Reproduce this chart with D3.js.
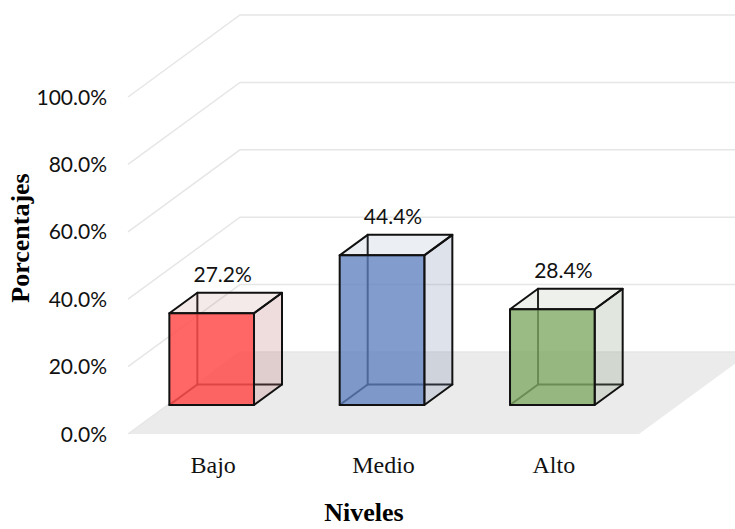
<!DOCTYPE html>
<html>
<head>
<meta charset="utf-8">
<script src="https://cdn.jsdelivr.net/npm/d3@7"></script>
<style>
  html, body { margin: 0; padding: 0; background: #fff; }
  svg { display: block; }
</style>
</head>
<body>
<svg id="chart" width="735" height="529"></svg>
<script>
// ---- data ----
const categories = ["Bajo", "Medio", "Alto"];
const values = [0.272, 0.444, 0.284];
const yTicks = [0, 0.2, 0.4, 0.6, 0.8, 1.0];
const yTickLabels = ["0.0%", "20.0%", "40.0%", "60.0%", "80.0%", "100.0%"];
const valueLabels = ["27.2%", "44.4%", "28.4%"];
const xTitle = "Niveles";
const yTitle = "Porcentajes";

// ---- layout ----
const width = 735, height = 529;
const DX = 112, DY = -82;          // depth projection vector
const zFront = 0.354, zBack = 0.604;

const svg = d3.select("#chart");
svg.append("rect").attr("width", width).attr("height", height).attr("fill", "#fff");

const x = d3.scaleBand().domain(categories).range([128, 639]).padding(0);
const y = d3.scaleLinear().domain([0, 1]).range([434, 97]);
const bw = x.bandwidth();

const proj = (u, v, z) => [u + z * DX, y(v) + z * DY];
const pts = arr => arr.map(p => p.join(",")).join(" ");

const frontFill = d3.scaleOrdinal().domain(categories).range(["#ff4d4d", "#5f82bf", "#82aa66"]);
const frontOpacity = d3.scaleOrdinal().domain(categories).range([0.86, 0.78, 0.8]);
const tint = d3.scaleOrdinal().domain(categories).range(["rgb(191,115,115)", "rgb(123,139,171)", "rgb(135,155,123)"]);

// floor
const [xL, xR] = x.range();
svg.append("polygon")
  .attr("points", pts([proj(xL, 0, 0), proj(xR, 0, 0), proj(xR, 0, 1), proj(xL, 0, 1)]))
  .attr("fill", "#ebebeb");

// gridlines
const grid = svg.append("g");
yTicks.forEach(t => {
  grid.append("polyline")
    .attr("points", pts([proj(xL, t, 0), proj(xL, t, 1), proj(xR + 20, t, 1)]))
    .attr("fill", "none")
    .attr("stroke", "#e6e6e6")
    .attr("stroke-width", 1.5);
});

// y tick labels
svg.append("g").selectAll("text")
  .data(yTicks)
  .join("text")
  .attr("x", 107)
  .attr("y", d => y(d))
  .attr("dy", "0.36em")
  .attr("text-anchor", "end")
  .attr("font-family", "Lato, 'Open Sans', sans-serif")
  .attr("font-size", 21)
  .attr("fill", "#111")
  .text((d, i) => yTickLabels[i]);

// bars
const bars = svg.append("g");
categories.forEach((c, i) => {
  const v = values[i];
  const u0 = x(c) + bw * 0.01;
  const u1 = u0 + bw * 0.497;
  const g = bars.append("g");
  const stroke = "#111", sw = 2;

  // hidden edges
  const hidden = [
    [proj(u0, 0, zBack), proj(u0, v, zBack)],
    [proj(u0, 0, zBack), proj(u1, 0, zBack)],
    [proj(u0, 0, zFront), proj(u0, 0, zBack)]
  ];
  hidden.forEach(([a, b]) => {
    g.append("line").attr("x1", a[0]).attr("y1", a[1]).attr("x2", b[0]).attr("y2", b[1])
      .attr("stroke", stroke).attr("stroke-width", sw).attr("stroke-linecap", "round");
  });
  // right side
  g.append("polygon")
    .attr("points", pts([proj(u1, 0, zFront), proj(u1, 0, zBack), proj(u1, v, zBack), proj(u1, v, zFront)]))
    .attr("fill", tint(c)).attr("fill-opacity", 0.25)
    .attr("stroke", stroke).attr("stroke-width", sw).attr("stroke-linejoin", "round");
  // top
  g.append("polygon")
    .attr("points", pts([proj(u0, v, zFront), proj(u1, v, zFront), proj(u1, v, zBack), proj(u0, v, zBack)]))
    .attr("fill", tint(c)).attr("fill-opacity", 0.15)
    .attr("stroke", stroke).attr("stroke-width", sw).attr("stroke-linejoin", "round");
  // front
  g.append("polygon")
    .attr("points", pts([proj(u0, 0, zFront), proj(u1, 0, zFront), proj(u1, v, zFront), proj(u0, v, zFront)]))
    .attr("fill", frontFill(c)).attr("fill-opacity", frontOpacity(c))
    .attr("stroke", stroke).attr("stroke-width", sw).attr("stroke-linejoin", "round");

  // value label
  const top = proj((u0 + u1) / 2, v, zBack);
  svg.append("text")
    .attr("x", (u0 + u1) / 2 + zFront * DX + 11)
    .attr("y", top[1] - 18)
    .attr("dy", "0.36em")
    .attr("text-anchor", "middle")
    .attr("font-family", "Lato, 'Open Sans', sans-serif")
    .attr("font-size", 21)
    .attr("fill", "#111")
    .text(valueLabels[i]);
});

// category labels
svg.append("g").selectAll("text")
  .data(categories)
  .join("text")
  .attr("x", d => x(d) + bw / 2)
  .attr("y", 473)
  .attr("text-anchor", "middle")
  .attr("font-family", "'Liberation Serif', 'Times New Roman', serif")
  .attr("font-size", 24)
  .attr("fill", "#111")
  .text(d => d);

// axis titles
svg.append("text")
  .attr("x", 364).attr("y", 521)
  .attr("text-anchor", "middle")
  .attr("font-family", "'Liberation Serif', 'Times New Roman', serif")
  .attr("font-weight", "bold")
  .attr("font-size", 26)
  .attr("fill", "#000")
  .text(xTitle);

svg.append("text")
  .attr("transform", "translate(29,238) rotate(-90)")
  .attr("text-anchor", "middle")
  .attr("font-family", "'Liberation Serif', 'Times New Roman', serif")
  .attr("font-weight", "bold")
  .attr("font-size", 26)
  .attr("fill", "#000")
  .text(yTitle);
</script>
</body>
</html>
